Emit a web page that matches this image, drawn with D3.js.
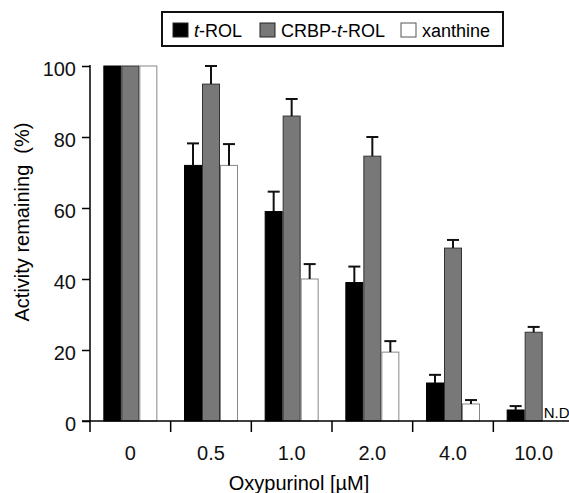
<!DOCTYPE html>
<html>
<head>
<meta charset="utf-8">
<script src="https://cdn.jsdelivr.net/npm/d3@7/dist/d3.min.js"></script>
<style>
  body { margin: 0; background: #fff; }
  svg { font-family: "Liberation Sans", Arial, sans-serif; }
</style>
</head>
<body>
<svg id="chart" width="569" height="493"></svg>
<script>
// Chart data
const doses = ['0', '0.5', '1.0', '2.0', '4.0', '10.0'];
const seriesNames = ['t-ROL', 'CRBP-t-ROL', 'xanthine'];
const tRol = [100, 72, 59, 39, 10.7, 3.1];
const tRolErr = [0, 6.2, 5.6, 4.5, 2.3, 1.1];
const crbpRol = [100, 94.9, 85.9, 74.6, 48.7, 25];
const crbpRolErr = [0, 5.1, 4.8, 5.4, 2.3, 1.5];
const xanthine = [100, 72, 40, 19.4, 4.8, null];
const xanthineErr = [0, 6, 4.2, 3.1, 1.1, null];
const yTicks = [0, 20, 40, 60, 80, 100];

const svg = d3.select('#chart');

const margin = { left: 90, top: 66, bottom: 421 };
const x = d3.scaleBand().domain(doses).range([90, 574]);
const xSeries = d3.scaleBand().domain(seriesNames).range([0, 54]);
const y = d3.scaleLinear().domain([0, 100]).range([margin.bottom, margin.top]);

const styles = {
  't-ROL': { fill: '#000', stroke: '#000' },
  'CRBP-t-ROL': { fill: '#787878', stroke: '#333' },
  'xanthine': { fill: '#fff', stroke: '#888' }
};

// Build series rows
const series = [
  { name: 't-ROL', values: tRol, errs: tRolErr },
  { name: 'CRBP-t-ROL', values: crbpRol, errs: crbpRolErr },
  { name: 'xanthine', values: xanthine, errs: xanthineErr }
];

const bars = [];
series.forEach(s => {
  doses.forEach((d, i) => {
    if (s.values[i] == null) return;
    bars.push({ dose: d, name: s.name, value: s.values[i], err: s.errs[i] });
  });
});

const groupOffset = (x.bandwidth() - 54) / 2;
const bx = d => x(d.dose) + groupOffset + xSeries(d.name);

// Bars
svg.append('g')
  .selectAll('rect')
  .data(bars)
  .enter()
  .append('rect')
  .attr('x', d => bx(d) + 0.5)
  .attr('y', d => y(d.value))
  .attr('width', xSeries.bandwidth() - 1)
  .attr('height', d => y(0) - y(d.value))
  .attr('fill', d => styles[d.name].fill)
  .attr('stroke', d => styles[d.name].stroke)
  .attr('stroke-width', 1);

// Error bars (upper only)
const errG = svg.append('g').attr('stroke', '#111').attr('stroke-width', 2);
bars.filter(d => d.err > 0).forEach(d => {
  const cx = bx(d) + xSeries.bandwidth() / 2;
  errG.append('line')
    .attr('x1', cx).attr('x2', cx)
    .attr('y1', y(d.value)).attr('y2', y(d.value + d.err));
  errG.append('line')
    .attr('x1', cx - 6).attr('x2', cx + 6)
    .attr('y1', y(d.value + d.err)).attr('y2', y(d.value + d.err));
});

// N.D label
svg.append('text')
  .attr('x', x('10.0') + groupOffset + xSeries('xanthine') + 1)
  .attr('y', y(0) - 3)
  .attr('font-size', 15)
  .text('N.D');

// Y axis
const yAxis = svg.append('g')
  .attr('transform', `translate(${margin.left},0)`)
  .call(d3.axisLeft(y).tickValues(yTicks).tickSize(8).tickPadding(6));
yAxis.select('.domain').attr('d', `M0,${margin.top - 1}V${margin.bottom}`).attr('stroke-width', 1.5);
yAxis.selectAll('.tick line').attr('stroke-width', 1.5);
yAxis.selectAll('text').attr('font-size', 20).attr('fill', '#111').attr('dy', '0.45em');

// X axis
const xAxis = svg.append('g')
  .attr('transform', `translate(0,${margin.bottom})`);
xAxis.append('line')
  .attr('x1', 82).attr('x2', 574)
  .attr('stroke', '#000').attr('stroke-width', 1.5);
xAxis.selectAll('.xtick')
  .data(doses)
  .enter()
  .append('line')
  .attr('x1', d => x(d)).attr('x2', d => x(d))
  .attr('y1', 0).attr('y2', 11)
  .attr('stroke', '#000').attr('stroke-width', 1.5);
xAxis.selectAll('.xlabel')
  .data(doses)
  .enter()
  .append('text')
  .attr('x', d => x(d) + x.bandwidth() / 2)
  .attr('y', 39)
  .attr('text-anchor', 'middle')
  .attr('font-size', 20)
  .attr('fill', '#111')
  .text(d => d);

// Axis titles
svg.append('text')
  .attr('x', 299)
  .attr('y', 490)
  .attr('text-anchor', 'middle')
  .attr('font-size', 20)
  .text('Oxypurinol [\u00b5M]');

svg.append('text')
  .attr('transform', 'translate(29,222) rotate(-90)')
  .attr('text-anchor', 'middle')
  .attr('font-size', 20)
  .style('white-space', 'pre')
  .text('Activity remaining  (%)');

// Legend
const legend = svg.append('g');
legend.append('rect')
  .attr('x', 162).attr('y', 12)
  .attr('width', 341).attr('height', 34)
  .attr('fill', '#fff').attr('stroke', '#111').attr('stroke-width', 2);

const legendItems = [
  { name: 't-ROL', sx: 173, parts: [['t', true], ['-ROL', false]] },
  { name: 'CRBP-t-ROL', sx: 260, parts: [['CRBP-', false], ['t', true], ['-ROL', false]] },
  { name: 'xanthine', sx: 401, parts: [['xanthine', false]] }
];
legendItems.forEach(item => {
  legend.append('rect')
    .attr('x', item.sx).attr('y', 23)
    .attr('width', 15).attr('height', 14)
    .attr('fill', styles[item.name].fill)
    .attr('stroke', item.name === 'xanthine' ? '#555' : '#222')
    .attr('stroke-width', 1);
  const t = legend.append('text')
    .attr('x', item.sx + 21).attr('y', 36.5)
    .attr('font-size', 18);
  item.parts.forEach(([txt, it]) => {
    t.append('tspan').attr('font-style', it ? 'italic' : 'normal').text(txt);
  });
});
</script>
</body>
</html>
